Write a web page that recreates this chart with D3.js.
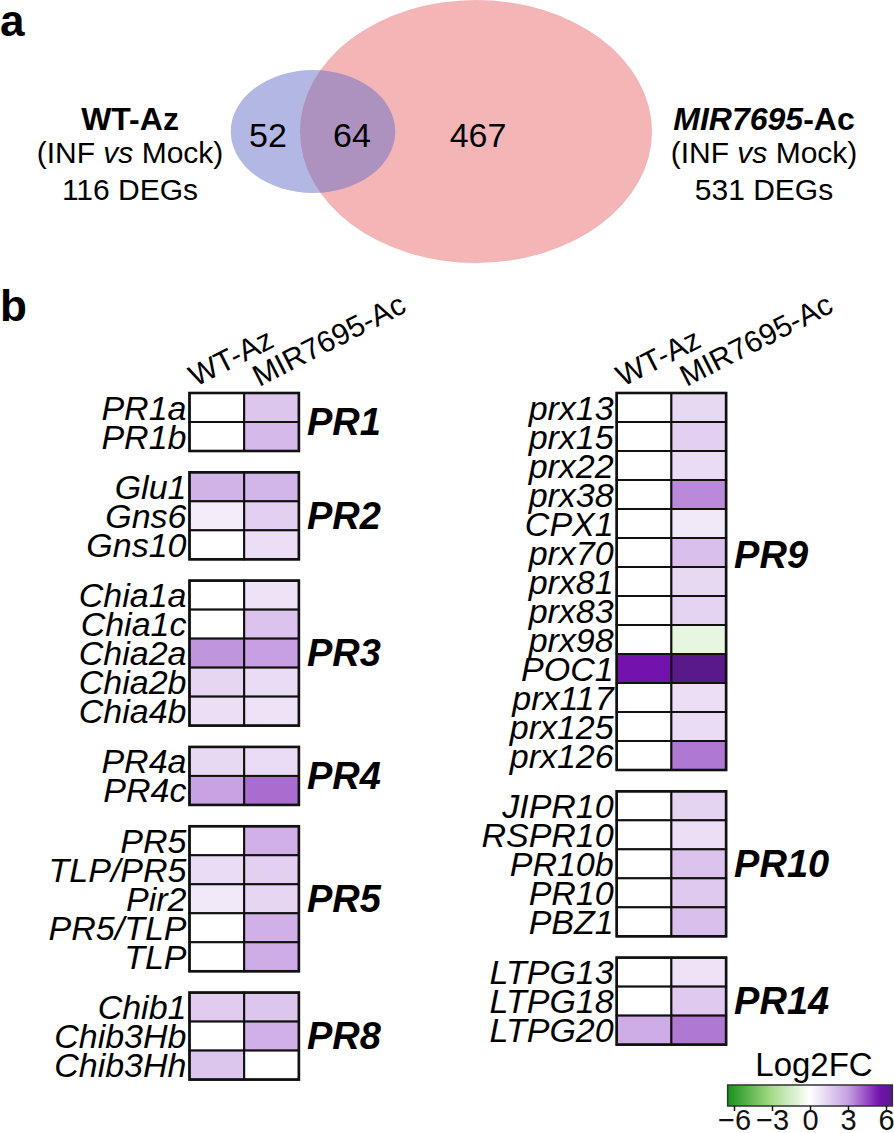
<!DOCTYPE html>
<html>
<head>
<meta charset="utf-8">
<script src="https://cdn.jsdelivr.net/npm/d3@7"></script>
<style>
body { margin: 0; background: #fff; }
svg { display: block; font-family: "Liberation Sans", Arial, Helvetica, sans-serif; }
</style>
</head>
<body>
<div id="chart"></div>
<script>
// ---- data ----
var vennNames = ["WT-Az", "MIR7695-Ac"];
var vennTotals = [116, 531];
var vennRegions = [52, 64, 467];

var colNames = ["WT-Az", "MIR7695-Ac"];

var leftGenes = ["PR1a", "PR1b", "Glu1", "Gns6", "Gns10", "Chia1a", "Chia1c", "Chia2a", "Chia2b", "Chia4b",
    "PR4a", "PR4c", "PR5", "TLP/PR5", "Pir2", "PR5/TLP", "TLP", "Chib1", "Chib3Hb", "Chib3Hh"];
var leftGroups = ["PR1", "PR1", "PR2", "PR2", "PR2", "PR3", "PR3", "PR3", "PR3", "PR3",
    "PR4", "PR4", "PR5", "PR5", "PR5", "PR5", "PR5", "PR8", "PR8", "PR8"];
var leftWT = [0, 0, 2.4, 0.6, 0, 0, 0, 3.2, 1.3, 1.0,
    1.2, 2.9, 0, 1.1, 0.7, 0, 0, 1.6, 0, 1.8];
var leftMIR = [1.8, 2.2, 2.3, 1.5, 1.0, 0.9, 1.9, 3.0, 1.1, 0.9,
    1.1, 3.9, 2.5, 1.5, 1.3, 2.5, 2.6, 1.8, 2.5, 0];

var rightGenes = ["prx13", "prx15", "prx22", "prx38", "CPX1", "prx70", "prx81", "prx83", "prx98", "POC1",
    "prx117", "prx125", "prx126", "JIPR10", "RSPR10", "PR10b", "PR10", "PBZ1", "LTPG13", "LTPG18", "LTPG20"];
var rightGroups = ["PR9", "PR9", "PR9", "PR9", "PR9", "PR9", "PR9", "PR9", "PR9", "PR9",
    "PR9", "PR9", "PR9", "PR10", "PR10", "PR10", "PR10", "PR10", "PR14", "PR14", "PR14"];
var rightWT = [0, 0, 0, 0, 0, 0, 0, 0, 0, 5.5,
    0, 0, 0, 0, 0, 0, 0, 0, 0, 0, 2.6];
var rightMIR = [1.2, 1.5, 1.1, 3.4, 0.7, 2.0, 1.2, 1.4, -0.8, 6.5,
    1.0, 1.1, 3.7, 1.4, 1.0, 1.9, 1.7, 2.0, 0.9, 1.7, 3.7];

var legendTicks = [-6, -3, 0, 3, 6];

// ---- setup ----
var width = 894, height = 1133;
var svg = d3.select("#chart").append("svg")
    .attr("width", width)
    .attr("height", height);

var color = d3.scaleLinear()
    .domain([-6.5, -3, 0, 3, 5.5, 6.5])
    .range(["#1a911a", "#a6dc8a", "#ffffff", "#c6a0e2", "#7412ae", "#581a8b"])
    .clamp(true);

svg.append("text").attr("x", 0).attr("y", 36)
    .attr("font-size", 44).attr("font-weight", "bold").text("a");
svg.append("text").attr("x", 0).attr("y", 321)
    .attr("font-size", 44).attr("font-weight", "bold").text("b");

// ---- venn ----
var rScale = d3.scaleSqrt().domain([0, d3.max(vennTotals)]).range([0, 176]);
var vennAspect = 0.747;
var vennCx = [313, 476], vennCy = 131.5;
var vennFill = ["#6670c8", "#f4b5b6"];

[1, 0].forEach(function(i) {
    svg.append("ellipse")
        .attr("cx", vennCx[i])
        .attr("cy", vennCy)
        .attr("rx", rScale(vennTotals[i]))
        .attr("ry", rScale(vennTotals[i]) * vennAspect)
        .attr("fill", vennFill[i])
        .attr("fill-opacity", i === 0 ? 0.5 : 1);
});

var regionX = [268, 352, 478];
svg.selectAll(".region")
    .data(vennRegions)
    .enter().append("text")
    .attr("class", "region")
    .attr("x", function(d, i) { return regionX[i]; })
    .attr("y", 147)
    .attr("text-anchor", "middle")
    .attr("font-size", 34)
    .text(function(d) { return d; });

var sideX = [130, 764];
vennNames.forEach(function(name, i) {
    var g = svg.append("g").attr("text-anchor", "middle").attr("font-size", 30);
    g.append("text").attr("x", sideX[i]).attr("y", 130)
        .attr("font-weight", "bold")
        .attr("font-size", 32)
        .attr("font-style", i === 1 ? "italic" : null)
        .text(i === 1 ? "MIR7695" : name)
        .append("tspan").attr("font-style", "normal")
        .text(i === 1 ? "-Ac" : "");
    var t = g.append("text").attr("x", sideX[i]).attr("y", 163);
    t.append("tspan").text("(INF ");
    t.append("tspan").attr("font-style", "italic").text("vs");
    t.append("tspan").text(" Mock)");
    g.append("text").attr("x", sideX[i]).attr("y", 200)
        .text(vennTotals[i] + " DEGs");
});

// ---- heatmaps ----
var rowH = 29, gapRows = 0.735, heatTop = 393, cellW = 54.7;
var rowY = d3.scaleLinear().domain([0, 1]).range([heatTop, heatTop + rowH]);
var labelShift = { PR9: -27 };

function drawPanel(genes, groups, wt, mir, left) {
    var x = d3.scaleBand().domain(colNames).range([left, left + 2 * cellW]);
    var groupNames = Array.from(new Set(groups));
    var rows = genes.map(function(gene, i) {
        var gi = groupNames.indexOf(groups[i]);
        return { gene: gene, group: groups[i], slot: i + gi * gapRows, vals: [wt[i], mir[i]] };
    });

    var panel = svg.append("g");

    var cells = [];
    rows.forEach(function(r) {
        colNames.forEach(function(c, j) { cells.push({ slot: r.slot, col: c, v: r.vals[j] }); });
    });

    panel.selectAll(".cell")
        .data(cells)
        .enter().append("rect")
        .attr("class", "cell")
        .attr("x", function(d) { return x(d.col); })
        .attr("y", function(d) { return rowY(d.slot); })
        .attr("width", x.bandwidth())
        .attr("height", rowH)
        .attr("fill", function(d) { return d.v === 0 ? "#fff" : color(d.v); })
        .attr("stroke", "#111")
        .attr("stroke-width", 2);

    // outer box and label per group
    groupNames.forEach(function(gname) {
        var gr = rows.filter(function(r) { return r.group === gname; });
        var y0 = rowY(gr[0].slot), y1 = rowY(gr[gr.length - 1].slot + 1);
        panel.append("rect")
            .attr("x", x.range()[0]).attr("y", y0)
            .attr("width", x.range()[1] - x.range()[0]).attr("height", y1 - y0)
            .attr("fill", "none").attr("stroke", "#111").attr("stroke-width", 2.6);
        panel.append("text")
            .attr("x", x.range()[1] + 8)
            .attr("y", (y0 + y1) / 2 + 13 + (labelShift[gname] || 0))
            .attr("font-size", 38).attr("font-weight", "bold").attr("font-style", "italic")
            .text(gname);
    });

    panel.selectAll(".gene")
        .data(rows)
        .enter().append("text")
        .attr("class", "gene")
        .attr("x", left - 3)
        .attr("y", function(d) { return rowY(d.slot + 0.5) + 12; })
        .attr("text-anchor", "end")
        .attr("font-size", 34)
        .attr("font-style", "italic")
        .text(function(d) { return d.gene; });

    var headOff = [6, 15];
    panel.selectAll(".head")
        .data(colNames)
        .enter().append("text")
        .attr("class", "head")
        .attr("transform", function(d, i) {
            return "translate(" + (x(d) + headOff[i]) + "," + (heatTop - 6) + ") rotate(-27)";
        })
        .attr("font-size", 30)
        .text(function(d) { return d; });
}

drawPanel(leftGenes, leftGroups, leftWT, leftMIR, 189.5);
drawPanel(rightGenes, rightGroups, rightWT, rightMIR, 616.7);

// ---- legend ----
var legendX = d3.scaleLinear().domain([-6, 6]).range([734, 886]);
var barY = 1085, barH = 21;

var grad = svg.append("defs").append("linearGradient").attr("id", "lfc");
d3.range(-6.5, 6.51, 0.5).forEach(function(v) {
    grad.append("stop")
        .attr("offset", ((v + 6.5) / 13 * 100) + "%")
        .attr("stop-color", color(v));
});

svg.append("rect")
    .attr("x", legendX(-6.5)).attr("y", barY)
    .attr("width", legendX(6.5) - legendX(-6.5)).attr("height", barH)
    .attr("fill", "url(#lfc)")
    .attr("stroke", "#333").attr("stroke-width", 1.5);

svg.append("text")
    .attr("x", 814).attr("y", 1076)
    .attr("text-anchor", "middle")
    .attr("font-size", 33)
    .text("Log2FC");

var legendAxis = d3.axisBottom(legendX)
    .tickValues(legendTicks)
    .tickSize(5)
    .tickFormat(function(d) { return d < 0 ? "\u2212" + Math.abs(d) : d; });

var ax = svg.append("g")
    .attr("transform", "translate(0," + (barY + barH) + ")")
    .call(legendAxis);
ax.select(".domain").remove();
ax.selectAll("line").attr("stroke", "#111").attr("stroke-width", 1.5);
ax.selectAll("text")
    .attr("y", 3)
    .attr("fill", "#111")
    .attr("font-size", 29)
    .attr("font-family", "Liberation Sans, Arial, sans-serif");
</script>
</body>
</html>
